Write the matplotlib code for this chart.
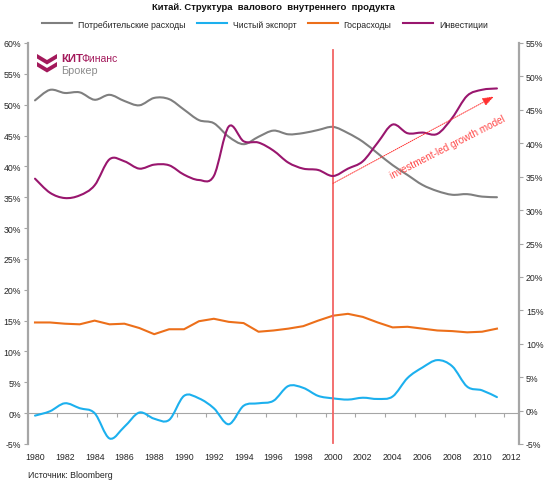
import matplotlib
matplotlib.use("Agg")
import matplotlib.pyplot as plt
from matplotlib.path import Path
from matplotlib.patches import PathPatch, Polygon
from matplotlib.lines import Line2D
import numpy as np

plt.rcParams['font.family'] = ['Liberation Sans', 'DejaVu Sans']

years = list(range(1980, 2012))
consumption = [50.7, 52.4, 51.9, 52.0, 50.8, 51.6, 50.6, 49.9, 51.1, 50.9, 49.2, 47.5, 47.0, 44.8, 43.6, 44.8,
               45.8, 45.2, 45.4, 45.9, 46.4, 45.4, 44.0, 42.1, 40.2, 38.6, 37.0, 36.0, 35.4, 35.5, 35.1, 35.0]
net_export = [-0.4, 0.3, 1.6, 0.8, 0.0, -4.1, -2.2, 0.1, -0.9, -1.1, 2.8, 2.4, 0.8, -1.8, 1.2, 1.6,
              2.0, 4.4, 4.1, 2.8, 2.4, 2.2, 2.5, 2.3, 2.7, 5.7, 7.4, 8.6, 7.6, 4.3, 3.7, 2.6]
gov_spending = [14.7, 14.7, 14.5, 14.4, 15.0, 14.4, 14.5, 13.8, 12.8, 13.6, 13.6, 14.9, 15.3, 14.8, 14.6, 13.2,
                13.4, 13.7, 14.1, 15.0, 15.8, 16.1, 15.6, 14.7, 13.9, 14.0, 13.7, 13.4, 13.3, 13.1, 13.2, 13.7]
investment = [34.7, 32.6, 31.8, 32.2, 33.7, 37.6, 37.3, 36.2, 36.8, 36.7, 35.3, 34.5, 35.1, 42.5, 40.3, 40.1,
              38.9, 37.1, 36.2, 36.0, 35.1, 36.2, 37.3, 40.1, 42.8, 41.5, 41.6, 41.4, 43.8, 47.1, 48.0, 48.2]

series_names = ["Потребительские расходы", "Чистый экспорт", "Госрасходы", "Инвестиции"]
colors = ["#7F7F7F", "#1CB0EE", "#EC6F1A", "#99166E"]
x_labels = [str(y) for y in range(1980, 2013, 2)]
left_ticks = list(range(-5, 61, 5))
right_ticks = list(range(-5, 56, 5))

W, H = 550, 485
fig = plt.figure(figsize=(W / 100, H / 100), dpi=100)


def fx(x):
    return x / W


def fy(y):
    return 1 - y / H


ax = fig.add_axes([fx(28), fy(445), fx(519) - fx(28), fy(44) - fy(445)])
ax2 = ax.twinx()

ax.set_xlim(1979.53, 2012.48)
ax.set_ylim(-5, 60)
ax2.set_ylim(-5, 55)

spine_col = "#A6A6A6"
txt_col = "#262626"
for a in (ax, ax2):
    for s in ("top", "bottom"):
        a.spines[s].set_visible(False)
ax.spines["right"].set_visible(False)
ax2.spines["left"].set_visible(False)
ax.spines["left"].set_color(spine_col)
ax.spines["left"].set_linewidth(1.6)
ax2.spines["right"].set_color(spine_col)
ax2.spines["right"].set_linewidth(1.6)

ax.set_yticks(left_ticks)
ax.set_yticklabels([f"{v}%" for v in left_ticks])
ax2.set_yticks(right_ticks)
ax2.set_yticklabels([f"{v}%" for v in right_ticks])
ax.tick_params(axis="y", direction="out", length=3, width=0.8, color=spine_col, labelsize=6.3,
               labelcolor=txt_col, pad=2)
ax2.tick_params(axis="y", direction="out", length=3, width=0.8, color=spine_col, labelsize=6.3,
                labelcolor=txt_col, pad=2)

ax.set_xticks([int(l) for l in x_labels])
ax.set_xticklabels(x_labels)
ax.tick_params(axis="x", length=0, labelsize=6.3, labelcolor=txt_col, pad=6)

# zero line with tick marks
sec = ax.secondary_xaxis(5 / 65)
sec.spines["bottom"].set_color(spine_col)
sec.spines["bottom"].set_linewidth(0.8)
sec.set_xticks([y + 0.5 for y in range(1979, 2012, 2)])
sec.set_xticklabels([])
sec.tick_params(axis="x", direction="out", length=3, width=0.8, color=spine_col)


def smooth_path(xs, ys):
    xs = np.asarray(xs, float)
    ys = np.asarray(ys, float)
    n = len(xs)
    verts = [(xs[0], ys[0])]
    codes = [Path.MOVETO]
    for i in range(n - 1):
        i0 = max(i - 1, 0)
        i3 = min(i + 2, n - 1)
        c1 = (xs[i] + (xs[i + 1] - xs[i0]) / 6, ys[i] + (ys[i + 1] - ys[i0]) / 6)
        c2 = (xs[i + 1] - (xs[i3] - xs[i]) / 6, ys[i + 1] - (ys[i3] - ys[i]) / 6)
        verts += [c1, c2, (xs[i + 1], ys[i + 1])]
        codes += [Path.CURVE4] * 3
    return Path(verts, codes)


lw = 1.5
ax.add_patch(PathPatch(smooth_path(years, consumption), fill=False, edgecolor=colors[0], lw=lw,
                       capstyle="round", zorder=3))
ax.add_patch(PathPatch(smooth_path(years, net_export), fill=False, edgecolor=colors[1], lw=lw,
                       capstyle="round", zorder=3))
ax.plot(years, gov_spending, color=colors[2], lw=lw, zorder=3)
ax2.add_patch(PathPatch(smooth_path(years, investment), fill=False, edgecolor=colors[3], lw=lw,
                        capstyle="round", zorder=3))

# red vertical line at 2000
ax.plot([2000, 2000], [-4.8, 58.8], color="#F26464", lw=1.3, zorder=4)

# arrow and annotation
ax2.annotate("", xy=(2010.8, 47.0), xytext=(2000, 34.0),
             arrowprops=dict(arrowstyle="-|>,head_length=0.7,head_width=0.25", color="#FF3030",
                             lw=0.7, linestyle=(0, (1, 1.2)), shrinkA=0, shrinkB=0), zorder=5)
ax2.text(fx(448), fy(148), "investment-led growth model", transform=fig.transFigure, rotation=27,
         rotation_mode="anchor", ha="center", va="center", color="#FF4A4A", fontsize=7.2)

# title
fig.text(fx(273), fy(8), "Китай. Структура  валового  внутреннего  продукта", ha="center", va="center",
         fontsize=6.8, fontweight="bold", color="#111111")

# legend
handles = [Line2D([], [], color=c, lw=lw) for c in colors]
fig.legend(handles, series_names, loc="center", bbox_to_anchor=(fx(265), fy(25)), ncol=4, frameon=False,
           fontsize=6.3, handlelength=3.4, handletextpad=0.7, columnspacing=1.3, labelcolor=txt_col)

# source
fig.text(fx(28), fy(476), "Источник: Bloomberg", ha="left", va="center", fontsize=6.3, color=txt_col)

# logo
logo_col = "#A3195B"
def px_poly(pts):
    return [(fx(x), fy(y)) for x, y in pts]

chev1 = [(37, 55), (47, 61), (57, 55), (57, 59.5), (47, 65.5), (37, 59.5)]
chev2 = [(37, 63), (47, 69), (57, 63), (57, 67.5), (47, 73.5), (37, 67.5)]
for ch in (chev1, chev2):
    fig.patches.append(Polygon(px_poly(ch), closed=True, facecolor=logo_col, edgecolor="none",
                               transform=fig.transFigure))
fig.text(fx(61), fy(59), "КИТ", ha="left", va="center", fontsize=8.2, fontweight="bold", color=logo_col)
fig.text(fx(81.5), fy(59), "Финанс", ha="left", va="center", fontsize=7.5, color=logo_col)
fig.text(fx(61), fy(71), "Брокер", ha="left", va="center", fontsize=7.8, color="#8C8C8C")

fig.savefig("out.png", dpi=100)
